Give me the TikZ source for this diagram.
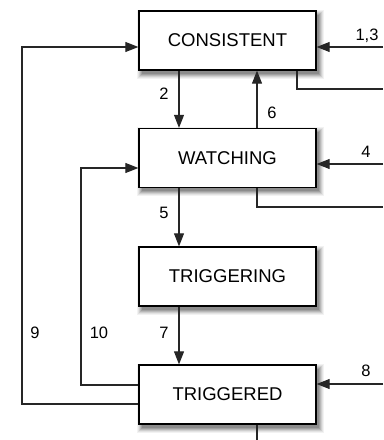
\documentclass[tikz,border=0pt]{standalone}
\usepackage{fontspec}
\setmainfont{Liberation Sans}
\usetikzlibrary{arrows.meta}
\definecolor{shA}{gray}{0.95}
\definecolor{shB}{gray}{0.89}
\definecolor{shC}{gray}{0.81}
\definecolor{shD}{gray}{0.72}
\definecolor{shE}{gray}{0.63}
\definecolor{shF}{gray}{0.55}
\begin{document}
\begin{tikzpicture}[x=1bp,y=-1bp,
  state/.style={draw=black, line width=1.3bp, fill=white, minimum width=177bp, minimum height=59bp, inner sep=0pt,
     font=\fontsize{18.5bp}{20bp}\selectfont},
  lbl/.style={font=\fontsize{16.5bp}{18bp}\selectfont, inner sep=0pt},
  conn/.style={line width=1.1bp, draw=black!85},
  arr/.style={conn, -{Triangle[length=13bp,width=10bp]}},
  line join=miter]
\useasboundingbox (0,0) rectangle (383,440);
% soft shadows under the boxes
\fill[shA] (137,10) rectangle (324,79);
\fill[shB] (138,11) rectangle (323,78);
\fill[shC] (139,12) rectangle (322,77);
\fill[shD] (140,13) rectangle (321,76);
\fill[shE] (141,14) rectangle (320,75);
\fill[shF] (142,15) rectangle (319,74);
\fill[shA] (137,127.5) rectangle (324,196.5);
\fill[shB] (138,128.5) rectangle (323,195.5);
\fill[shC] (139,129.5) rectangle (322,194.5);
\fill[shD] (140,130.5) rectangle (321,193.5);
\fill[shE] (141,131.5) rectangle (320,192.5);
\fill[shF] (142,132.5) rectangle (319,191.5);
\fill[shA] (137,246) rectangle (324,315);
\fill[shB] (138,247) rectangle (323,314);
\fill[shC] (139,248) rectangle (322,313);
\fill[shD] (140,249) rectangle (321,312);
\fill[shE] (141,250) rectangle (320,311);
\fill[shF] (142,251) rectangle (319,310);
\fill[shA] (137,364) rectangle (324,433);
\fill[shB] (138,365) rectangle (323,432);
\fill[shC] (139,366) rectangle (322,431);
\fill[shD] (140,367) rectangle (321,430);
\fill[shE] (141,368) rectangle (320,429);
\fill[shF] (142,369) rectangle (319,428);
\node[state] (C) at (227.5,40.5) {CONSISTENT};
\node[state] (W) at (227.5,158) {WATCHING};
\node[state] (G) at (227.5,276.5) {TRIGGERING};
\node[state] (D) at (227.5,394.5) {TRIGGERED};
% right-side free ends
\coordinate (r13) at (383,47);
\coordinate (rC) at (383,89);
\coordinate (r4) at (383,164);
\coordinate (rW) at (383,207);
\coordinate (r8) at (383,384);
\coordinate (bD) at (257,440);
% incoming from right
\draw[arr] (r13) -- (C.east |- r13);
\draw[arr] (r4) -- (W.east |- r4);
\draw[arr] (r8) -- (D.east |- r8);
% outgoing to right
\draw[conn] (C.south -| 297,0) |- (rC);
\draw[conn] (W.south -| 257,0) |- (rW);
\draw[conn] (D.south -| bD) -- (bD);
% vertical
\draw[arr] (C.south -| 179,0) -- (W.north -| 179,0);
\draw[arr] (W.north -| 257,0) -- (C.south -| 257,0);
\draw[arr] (W.south -| 179,0) -- (G.north -| 179,0);
\draw[arr] (G.south -| 179,0) -- (D.north -| 179,0);
% left loops
\draw[arr] (D.west |- 0,385) -| (81,168) -- (W.west |- 0,168);
\draw[arr] (D.west |- 0,404) -| (22,47) -- (C.west |- 0,47);
% labels
\node[lbl] (l13) at (367,36) {1,3};
\node[lbl] (l2) at (164,94) {2};
\node[lbl] (l6) at (272,113) {6};
\node[lbl] (l4) at (366,152) {4};
\node[lbl] (l5) at (164,213) {5};
\node[lbl] (l9) at (35,333) {9};
\node[lbl] (l10) at (99,333) {10};
\node[lbl] (l7) at (164,333) {7};
\node[lbl] (l8) at (366,371) {8};
\end{tikzpicture}
\end{document}
